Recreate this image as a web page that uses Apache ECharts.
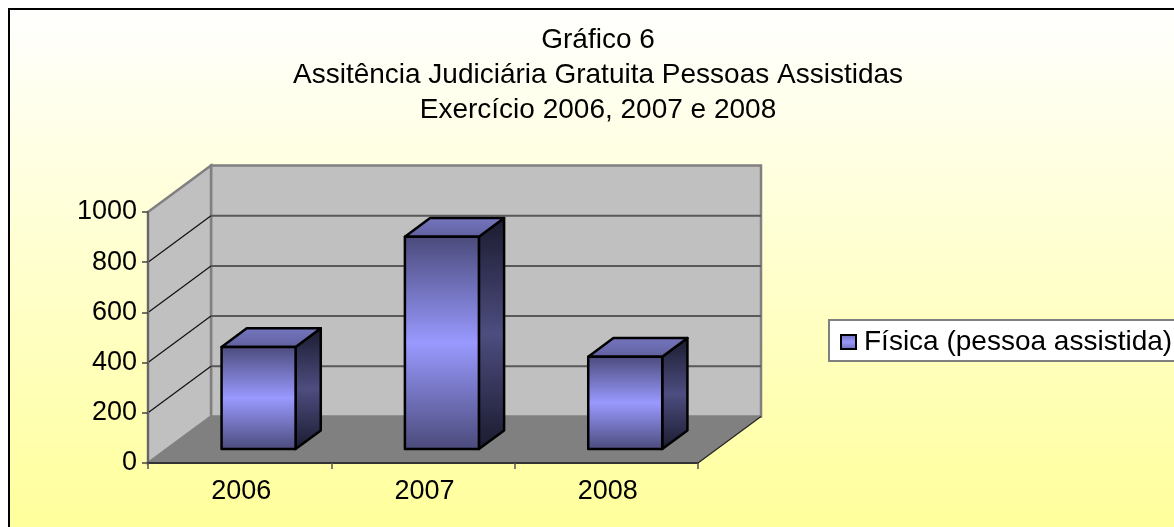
<!DOCTYPE html>
<html>
<head>
<meta charset="utf-8">
<title>Gráfico 6</title>
<script src="https://cdn.jsdelivr.net/npm/echarts@6/dist/echarts.min.js"></script>
<style>
  html, body { margin: 0; padding: 0; background: #fff; }
  #grafico { width: 1174px; height: 527px; }
</style>
</head>
<body>
<div id="grafico"></div>
<script>
const titulo = "Gráfico 6\nAssitência Judiciária Gratuita Pessoas Assistidas\nExercício 2006, 2007 e 2008";
const categorias = ["2006", "2007", "2008"];
const fisica = [407, 846, 368];
const yTicks = [200, 400, 600, 800, 1000];
const nomeSerie = "Física (pessoa assistida)";

// 3D offset of the box, in pixels
const DX = 63;
const DY = -46.5;
const BAR_WIDTH = 74;
const FONTE = "'Liberation Sans', Arial, sans-serif";

function grad(x2, y2, c0, c1, c2) {
  return {
    type: "linear", x: 0, y: 0, x2: x2, y2: y2,
    colorStops: [
      { offset: 0, color: c0 },
      { offset: 0.5, color: c1 },
      { offset: 1, color: c2 }
    ]
  };
}

function renderParedes(params, api) {
  const c = params.coordSys;
  const x0 = c.x, x1 = c.x + c.width, yb = c.y + c.height, yt = c.y;
  const poly = (points, style) => ({ type: "polygon", shape: { points }, style });
  return {
    type: "group",
    children: [
      poly([[x0 + DX, yt + DY], [x1 + DX, yt + DY], [x1 + DX, yb + DY], [x0 + DX, yb + DY]],
        { fill: "#c0c0c0", stroke: "#808080", lineWidth: 2.5 }),
      poly([[x0, yt], [x0 + DX, yt + DY], [x0 + DX, yb + DY], [x0, yb]],
        { fill: "#c0c0c0", stroke: "#808080", lineWidth: 2.5 }),
      poly([[x0, yb], [x1, yb], [x1 + DX, yb + DY], [x0 + DX, yb + DY]],
        { fill: "#808080" }),
      { type: "line", shape: { x1: x1, y1: yb, x2: x1 + DX, y2: yb + DY },
        style: { stroke: "#222", lineWidth: 1.2 } }
    ]
  };
}

function renderGrade(params, api) {
  const c = params.coordSys;
  const y = api.coord([0, api.value(1)])[1];
  const children = [];
  if (api.value(1) < 1000) {
    children.push({ type: "line", shape: { x1: c.x, y1: y, x2: c.x + DX, y2: y + DY },
      style: { stroke: "#111", lineWidth: 1.2 } });
    children.push({ type: "line", shape: { x1: c.x + DX, y1: y + DY, x2: c.x + c.width + DX, y2: y + DY },
      style: { stroke: "#595959", lineWidth: 2 } });
  }
  return { type: "group", children };
}

function renderBarra(params, api) {
  const base = api.coord([api.value(0), 0]);
  const topo = api.coord([api.value(0), api.value(1)]);
  // bar sits in the middle 40% of the depth
  const fx = DX * 0.3, fy = DY * 0.3, px = DX * 0.4, py = DY * 0.4;
  const l = base[0] - BAR_WIDTH / 2 + fx, r = l + BAR_WIDTH;
  const b = base[1] + fy, t = topo[1] + fy;
  const borda = { stroke: "#000", lineWidth: 2.5, lineJoin: "round" };
  return {
    type: "group",
    children: [
      { type: "polygon", shape: { points: [[r, t], [r + px, t + py], [r + px, b + py], [r, b]] },
        style: Object.assign({ fill: grad(0, 1, "#1a1a2e", "#4d4d80", "#1a1a2e") }, borda) },
      { type: "polygon", shape: { points: [[l, t], [l + px, t + py], [r + px, t + py], [r, t]] },
        style: Object.assign({ fill: grad(0, 1, "#7676bf", "#6b6bb0", "#5f5f9c") }, borda) },
      { type: "rect", shape: { x: l, y: t, width: BAR_WIDTH, height: b - t },
        style: Object.assign({ fill: grad(0, 1, "#4a4a7a", "#9999ff", "#4a4a7a") }, borda) }
    ]
  };
}

const myChart = echarts.init(document.getElementById("grafico"));
myChart.setOption({
  animation: false,
  textStyle: { fontFamily: FONTE },
  title: {
    text: titulo,
    left: 593,
    top: 18,
    textAlign: "center",
    textStyle: { fontFamily: FONTE, fontSize: 28, fontWeight: "normal", color: "#000", lineHeight: 35 }
  },
  legend: {
    data: [nomeSerie],
    left: 840,
    top: 328,
    padding: 0,
    icon: "rect",
    itemWidth: 15,
    itemHeight: 14,
    itemGap: 0,
    itemStyle: { color: grad(0, 1, "#6a6ab0", "#9999ff", "#6a6ab0"), borderColor: "#000", borderWidth: 2 },
    textStyle: { fontFamily: FONTE, fontSize: 28, color: "#000", padding: [0, 0, 0, 3] }
  },
  graphic: [
    {
      type: "rect",
      silent: true,
      z: -10,
      shape: { x: 9, y: 9, width: 1180, height: 530 },
      style: {
        fill: { type: "linear", x: 0, y: 0, x2: 0, y2: 1,
          colorStops: [{ offset: 0, color: "#ffffff" }, { offset: 1, color: "#ffff99" }] },
        stroke: "#000",
        lineWidth: 2
      }
    },
    {
      type: "rect",
      silent: true,
      z: -9,
      shape: { x: 829, y: 320, width: 360, height: 41 },
      style: { fill: "#fff", stroke: "#808080", lineWidth: 2 }
    }
  ],
  grid: { left: 148, top: 212, width: 550, height: 251 },
  xAxis: {
    type: "category",
    data: categorias,
    z: 5,
    axisLine: { lineStyle: { color: "#333", width: 2 } },
    axisTick: { show: true, length: 6, lineStyle: { color: "#555", width: 1.5 } },
    axisLabel: { fontFamily: FONTE, fontSize: 27, color: "#000", margin: 15, padding: [0, 0, 0, 3] }
  },
  yAxis: {
    type: "value",
    min: 0,
    max: 1000,
    interval: 200,
    z: 5,
    splitLine: { show: false },
    axisLine: { show: true, lineStyle: { color: "#666", width: 2 } },
    axisTick: { show: true, length: 6, lineStyle: { color: "#444", width: 1.5 } },
    axisLabel: { fontFamily: FONTE, fontSize: 27, color: "#000", margin: 11, padding: [6, 0, 0, 0], formatter: v => String(v) }
  },
  series: [
    { type: "custom", name: "paredes", z: 1, silent: true, clip: false,
      renderItem: renderParedes, data: [[0, 0]] },
    { type: "custom", name: "grade", z: 2, silent: true, clip: false,
      renderItem: renderGrade, data: yTicks.map(v => [0, v]) },
    { type: "custom", name: nomeSerie, z: 3, clip: false,
      itemStyle: { color: "#9999ff" },
      renderItem: renderBarra,
      encode: { x: 0, y: 1 },
      data: fisica.map((v, i) => [i, v]) }
  ]
});
window.addEventListener("resize", () => { myChart.resize(); });
</script>
</body>
</html>
